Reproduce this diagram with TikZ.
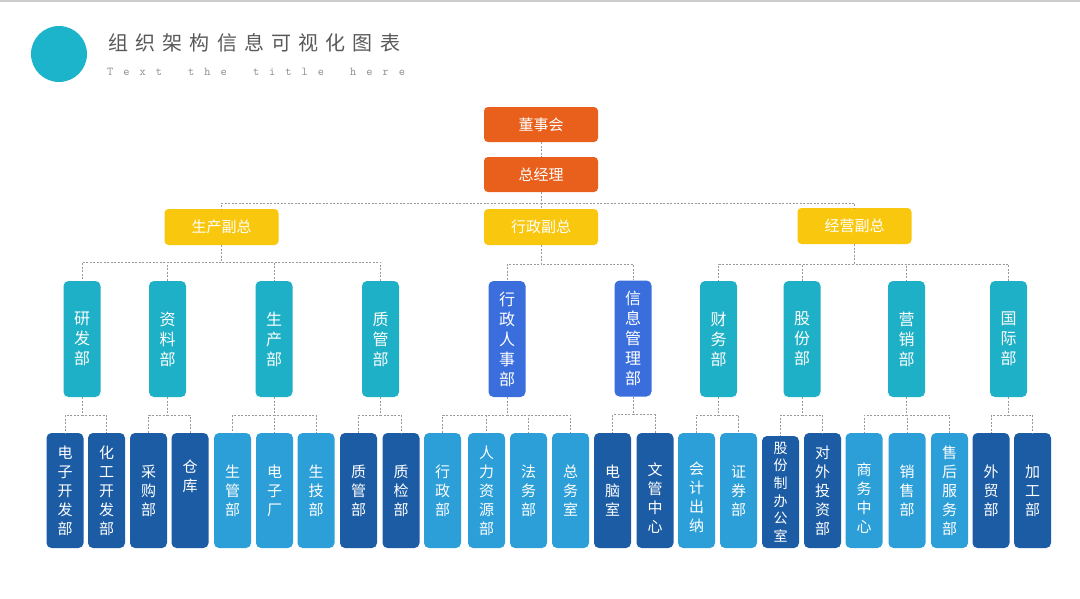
\documentclass[tikz,border=0pt]{standalone}
\usepackage{fontspec}
\setmainfont{Noto Sans CJK SC}
\usepackage{tikz}
\definecolor{bossorg}{HTML}{E8601C}
\definecolor{viceyel}{HTML}{F9C80E}
\definecolor{deptteal}{HTML}{1DB0C6}
\definecolor{deptblue}{HTML}{3A6EDD}
\definecolor{unitdark}{HTML}{1C5CA4}
\definecolor{unitlight}{HTML}{2C9FD9}
\definecolor{dotteal}{HTML}{1CB4CB}
\definecolor{linegray}{HTML}{9A9A9A}
% monospaced letters set on a wide fixed pitch
\newcommand{\spreadchars}[1]{\spreadloop#1\relax}
\def\spreadloop#1{\ifx#1\relax\else\makebox[16.2pt][l]{#1}\expandafter\spreadloop\fi}
\tikzset{
  boss/.style={fill=bossorg,rounded corners=4pt,minimum width=114pt,minimum height=35pt,inner sep=0pt,text=white,font=\fontsize{15}{18}\selectfont},
  vice/.style={boss,fill=viceyel,minimum height=36pt},
  dept/.style={fill=deptteal,rounded corners=5pt,minimum width=37pt,minimum height=116pt,inner sep=0pt,text=white,align=center,font=\fontsize{16}{20}\selectfont},
  deptb/.style={dept,fill=deptblue},
  unit/.style={fill=unitdark,rounded corners=5pt,minimum width=37pt,minimum height=115pt,inner sep=0pt,text=white,align=center,font=\fontsize{15}{19}\selectfont},
  unitl/.style={unit,fill=unitlight},
  link/.style={draw=linegray,line width=0.7pt,dash pattern=on 2pt off 1.5pt},
}
\begin{document}
\begin{tikzpicture}[x=1pt,y=-1pt]
  \useasboundingbox (0,0) rectangle (1080,598);
  \fill[white] (0,0) rectangle (1080,598);
  \draw[black!20,line width=1.2pt] (0,1) -- (1080,1);
  % header
  \fill[dotteal] (59,54) circle (28);
  \node[anchor=west,inner sep=0pt,text=black!65,font=\fontsize{20}{24}\selectfont\addfontfeature{LetterSpace=36}] (title) at (108,43) {组织架构信息可视化图表};
  \node[anchor=west,inner sep=0pt,text=black!45,font=\ttfamily\fontsize{12}{14}\selectfont] (subtitle) at (107,72) {\spreadchars{Text~the~title~here}};
  % top
  \node[boss] (board) at (541,124.5) {董事会};
  \node[boss] (gm) at (541,174.5) {总经理};
  \node[vice] (vprod) at (221.5,227) {生产副总};
  \node[vice] (vadmin) at (541,227) {行政副总};
  \node[vice] (vbiz) at (854.5,226) {经营副总};
  % departments
  \node[dept] (rd) at (82,339) {研\\发\\部};
  \node[dept] (data) at (167.5,339) {资\\料\\部};
  \node[dept] (prod) at (274,339) {生\\产\\部};
  \node[dept] (qm) at (380.5,339) {质\\管\\部};
  \node[deptb] (hr) at (507,339) {行\\政\\人\\事\\部};
  \node[deptb] (info) at (633,338.5) {信\\息\\管\\理\\部};
  \node[dept] (fin) at (718.5,339) {财\\务\\部};
  \node[dept] (share) at (802,339) {股\\份\\部};
  \node[dept] (mkt) at (906.5,339) {营\\销\\部};
  \node[dept] (intl) at (1008.5,339) {国\\际\\部};
  % units
  \node[unit] (u1) at (65,490.5) {电\\子\\开\\发\\部};
  \node[unit] (u2) at (106.5,490.5) {化\\工\\开\\发\\部};
  \node[unit] (u3) at (148.5,490.5) {采\\购\\部};
  \node[unit,text depth=30pt] (u4) at (190,490.5) {仓\\库};
  \node[unitl] (u5) at (232.5,490.5) {生\\管\\部};
  \node[unitl] (u6) at (274.5,490.5) {电\\子\\厂};
  \node[unitl] (u7) at (316,490.5) {生\\技\\部};
  \node[unit] (u8) at (358.5,490.5) {质\\管\\部};
  \node[unit] (u9) at (401,490.5) {质\\检\\部};
  \node[unitl] (u10) at (442.5,490.5) {行\\政\\部};
  \node[unitl] (u11) at (486.5,490.5) {人\\力\\资\\源\\部};
  \node[unitl] (u12) at (528.5,490.5) {法\\务\\部};
  \node[unitl] (u13) at (570.5,490.5) {总\\务\\室};
  \node[unit] (u14) at (612.5,490.5) {电\\脑\\室};
  \node[unit,text height=84pt] (u15) at (655,490.5) {文\\管\\中\\心};
  \node[unitl,text height=84pt] (u16) at (696.5,490.5) {会\\计\\出\\纳};
  \node[unitl] (u17) at (738.5,490.5) {证\\券\\部};
  \node[unit,minimum height=112pt,font=\fontsize{14}{17.6}\selectfont] (u18) at (780.5,492) {股\\份\\制\\办\\公\\室};
  \node[unit] (u19) at (822.5,490.5) {对\\外\\投\\资\\部};
  \node[unitl,text height=84pt] (u20) at (864,490.5) {商\\务\\中\\心};
  \node[unitl] (u21) at (907,490.5) {销\\售\\部};
  \node[unitl] (u22) at (949.5,490.5) {售\\后\\服\\务\\部};
  \node[unit] (u23) at (991,490.5) {外\\贸\\部};
  \node[unit] (u24) at (1032.5,490.5) {加\\工\\部};
  % links
  \draw[link] (board) -- (gm);
  \draw[link] (gm.south) -- ++(0,11) -| (vprod.north);
  \draw[link] (gm.south) -- ++(0,11) -| (vadmin.north);
  \draw[link] (gm.south) -- ++(0,11) -| (vbiz.north);
  \draw[link] (vprod.south) -- ++(0,17) -| (rd.north);
  \draw[link] (vprod.south) -- ++(0,17) -| (data.north);
  \draw[link] (vprod.south) -- ++(0,17) -| (prod.north);
  \draw[link] (vprod.south) -- ++(0,17) -| (qm.north);
  \draw[link] (vadmin.south) -- ++(0,19) -| (hr.north);
  \draw[link] (vadmin.south) -- ++(0,19) -| (info.north);
  \draw[link] (vbiz.south) -- ++(0,20) -| (fin.north);
  \draw[link] (vbiz.south) -- ++(0,20) -| (share.north);
  \draw[link] (vbiz.south) -- ++(0,20) -| (mkt.north);
  \draw[link] (vbiz.south) -- ++(0,20) -| (intl.north);
  \draw[link] (rd.south) -- ++(0,18) -| (u1.north);
  \draw[link] (rd.south) -- ++(0,18) -| (u2.north);
  \draw[link] (data.south) -- ++(0,18) -| (u3.north);
  \draw[link] (data.south) -- ++(0,18) -| (u4.north);
  \draw[link] (prod.south) -- ++(0,18) -| (u5.north);
  \draw[link] (prod.south) -- ++(0,18) -| (u6.north);
  \draw[link] (prod.south) -- ++(0,18) -| (u7.north);
  \draw[link] (qm.south) -- ++(0,18) -| (u8.north);
  \draw[link] (qm.south) -- ++(0,18) -| (u9.north);
  \draw[link] (hr.south) -- ++(0,18) -| (u10.north);
  \draw[link] (hr.south) -- ++(0,18) -| (u11.north);
  \draw[link] (hr.south) -- ++(0,18) -| (u12.north);
  \draw[link] (hr.south) -- ++(0,18) -| (u13.north);
  \draw[link] (info.south) -- ++(0,18) -| (u14.north);
  \draw[link] (info.south) -- ++(0,18) -| (u15.north);
  \draw[link] (fin.south) -- ++(0,18) -| (u16.north);
  \draw[link] (fin.south) -- ++(0,18) -| (u17.north);
  \draw[link] (share.south) -- ++(0,18) -| (u18.north);
  \draw[link] (share.south) -- ++(0,18) -| (u19.north);
  \draw[link] (mkt.south) -- ++(0,18) -| (u20.north);
  \draw[link] (mkt.south) -- ++(0,18) -| (u21.north);
  \draw[link] (mkt.south) -- ++(0,18) -| (u22.north);
  \draw[link] (intl.south) -- ++(0,18) -| (u23.north);
  \draw[link] (intl.south) -- ++(0,18) -| (u24.north);
\end{tikzpicture}
\end{document}
